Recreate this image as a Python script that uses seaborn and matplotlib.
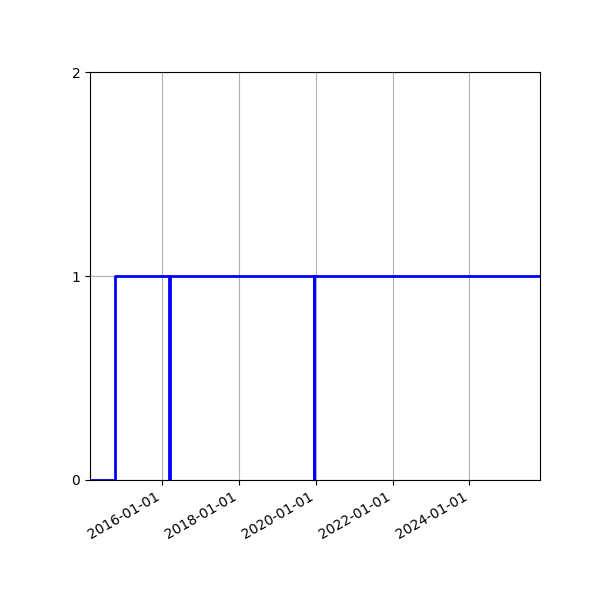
import matplotlib
matplotlib.use("Agg")
import matplotlib.pyplot as plt
import matplotlib.dates as mdates
import seaborn as sns
import pandas as pd

# change points of the on/off state (step series)
dates = ["2014-02-20", "2014-10-12", "2016-03-12", "2016-03-16",
         "2019-12-17", "2019-12-22", "2025-11-01"]
state = [0, 1, 0, 1, 0, 1, 1]

df = pd.DataFrame({"date": pd.to_datetime(dates), "state": state})

fig, ax = plt.subplots(figsize=(6, 6), dpi=100)
sns.lineplot(data=df, x="date", y="state", ax=ax, estimator=None,
             drawstyle="steps-post", color="blue", linewidth=2)

ax.set_xlim(df["date"].min(), df["date"].max())
ax.set_ylim(0, 2)
ax.set_yticks([0, 1, 2])
ax.xaxis.set_major_locator(mdates.YearLocator(2))
ax.xaxis.set_major_formatter(mdates.DateFormatter("%Y-%m-%d"))
ax.grid(True)
ax.set_axisbelow(True)
ax.set_xlabel("")
ax.set_ylabel("")

fig.autofmt_xdate()
fig.subplots_adjust(left=0.15, right=0.9, bottom=0.2, top=0.88)
fig.savefig("out.png", dpi=100)
